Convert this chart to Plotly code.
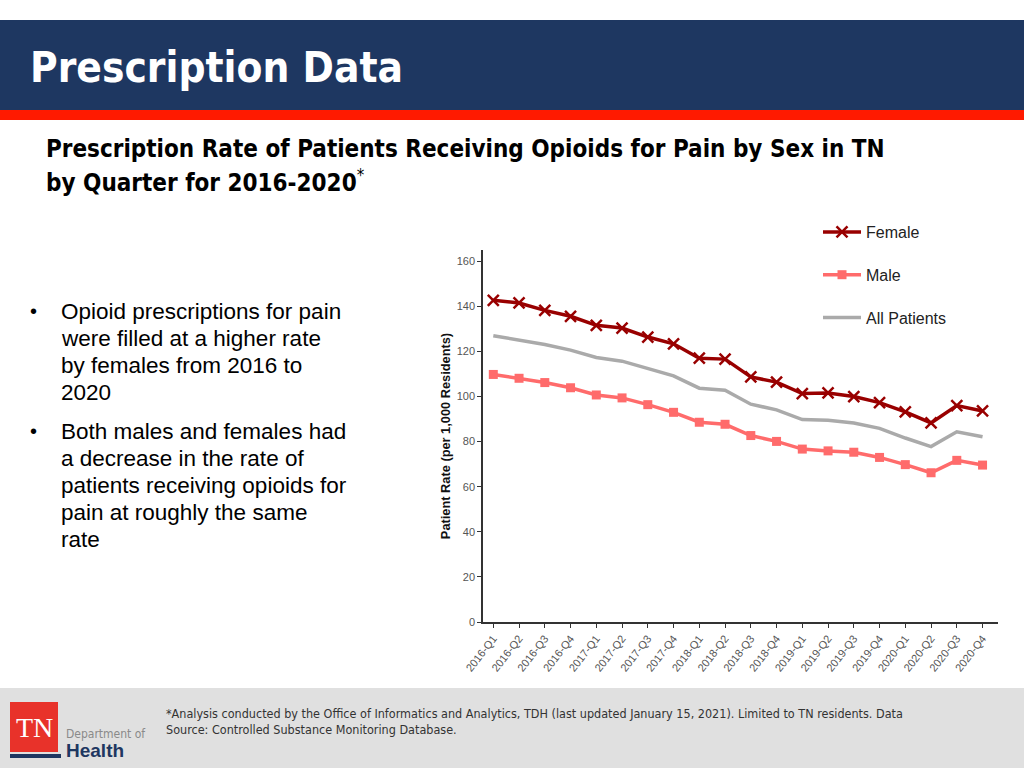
import plotly.graph_objects as go

quarters = ["2016-Q1", "2016-Q2", "2016-Q3", "2016-Q4",
            "2017-Q1", "2017-Q2", "2017-Q3", "2017-Q4",
            "2018-Q1", "2018-Q2", "2018-Q3", "2018-Q4",
            "2019-Q1", "2019-Q2", "2019-Q3", "2019-Q4",
            "2020-Q1", "2020-Q2", "2020-Q3", "2020-Q4"]
female = [142.7, 141.5, 138.2, 135.6, 131.6, 130.4, 126.4, 123.4, 117.0, 116.6,
          108.7, 106.4, 101.3, 101.6, 100.0, 97.3, 93.2, 88.3, 96.0, 93.6]
male = [109.8, 108.1, 106.2, 103.9, 100.7, 99.4, 96.4, 93.0, 88.6, 87.7,
        82.7, 80.1, 76.7, 75.9, 75.3, 73.0, 69.8, 66.2, 71.7, 69.6]
all_patients = [127.0, 125.2, 123.1, 120.6, 117.3, 115.7, 112.4, 109.2, 103.7, 102.8,
                96.6, 94.1, 89.8, 89.5, 88.3, 85.9, 81.6, 77.8, 84.4, 82.2]
y_ticks = [0, 20, 40, 60, 80, 100, 120, 140, 160]

W, H = 1024, 768
def px(x): return x / W
def py(y): return 1 - y / H

fig = go.Figure()
fig.add_trace(go.Scatter(
    x=quarters, y=female, name="Female", mode="lines+markers",
    line=dict(color="#990000", width=3.5),
    marker=dict(symbol="x-thin", size=11, line=dict(color="#990000", width=2.5), color="#990000"),
    legendgroup="f"))
fig.add_trace(go.Scatter(
    x=quarters, y=male, name="Male", mode="lines+markers",
    line=dict(color="#FF6B6B", width=3.5),
    marker=dict(symbol="square", size=9, color="#FF6B6B"),
    legendgroup="m"))
fig.add_trace(go.Scatter(
    x=quarters, y=all_patients, name="All Patients", mode="lines",
    line=dict(color="#AAAAAA", width=3.5),
    legendgroup="a"))

fig.update_layout(
    template="none",
    width=W, height=H, margin=dict(l=0, r=0, t=0, b=0, autoexpand=False),
    paper_bgcolor="white", plot_bgcolor="white",
    font=dict(family="Liberation Sans, Arial, sans-serif"),
    legend=dict(x=px(818), y=py(215), xanchor="left", yanchor="top",
                font=dict(size=16, color="#222222"), tracegroupgap=19,
                itemwidth=38, bgcolor="rgba(0,0,0,0)"),
    xaxis=dict(domain=[px(483), px(998)], type="category", range=[-0.4, 19.6],
               showline=True, linecolor="#333333", linewidth=1.5,
               ticks="outside", ticklen=4, tickcolor="#333333",
               tickangle=-52, tickfont=dict(size=11, color="#555555"),
               showgrid=False, zeroline=False, automargin=False),
    yaxis=dict(domain=[1 - 622 / H, 1 - 250 / H], range=[0, 165],
               tickvals=y_ticks, showline=True, linecolor="#333333", linewidth=1.5,
               ticks="outside", ticklen=4, tickcolor="#333333",
               tickfont=dict(size=11, color="#555555"),
               showgrid=False, zeroline=False, automargin=False,
               title=dict(text="<b>Patient Rate (per 1,000 Residents)</b>",
                          font=dict(size=12.8, color="#111111"), standoff=3)),
)

shapes = [
    dict(type="rect", xref="paper", yref="paper", x0=0, x1=1, y0=py(110), y1=py(20),
         fillcolor="#1E3761", line=dict(width=0), layer="below"),
    dict(type="rect", xref="paper", yref="paper", x0=0, x1=1, y0=py(120), y1=py(110),
         fillcolor="#FF1A00", line=dict(width=0), layer="below"),
    dict(type="rect", xref="paper", yref="paper", x0=0, x1=1, y0=0, y1=py(688),
         fillcolor="#E0E0E0", line=dict(width=0), layer="below"),
    dict(type="rect", xref="paper", yref="paper", x0=px(10), x1=px(58), y0=py(752), y1=py(702),
         fillcolor="#E8322A", line=dict(width=0), layer="below"),
    dict(type="rect", xref="paper", yref="paper", x0=px(10), x1=px(61), y0=py(758), y1=py(754),
         fillcolor="#1E3761", line=dict(width=0), layer="below"),
]
fig.update_layout(shapes=shapes)

ann = []
def add(text, x, y, size, color="#000000", family="Liberation Sans, Arial, sans-serif", xanchor="left", yanchor="middle", align="left"):
    ann.append(dict(text=text, x=px(x), y=py(y), xref="paper", yref="paper",
                    xanchor=xanchor, yanchor=yanchor, align=align, showarrow=False,
                    font=dict(size=size, color=color, family=family)))

narrow = "DejaVu Sans Condensed, Liberation Sans Narrow, Arial Narrow, Liberation Sans, sans-serif"
add("<b>Prescription Data</b>", 28, 68, 42, color="white", family=narrow)
add("<b>Prescription Rate of Patients Receiving Opioids for Pain by Sex in TN</b>", 44, 149, 24, family=narrow)
add("<b>by Quarter for 2016-2020</b><sup>*</sup>", 44, 181, 24, family=narrow)

bullet1 = ["Opioid prescriptions for pain", "were filled at a higher rate",
           "by females from 2016 to", "2020"]
bullet2 = ["Both males and females had", "a decrease in the rate of",
           "patients receiving opioids for", "pain at roughly the same", "rate"]
add("•", 28, 311, 20)
for i, t in enumerate(bullet1):
    add(t, 59, 311 + 27 * i, 22.5)
add("•", 28, 431, 20)
for i, t in enumerate(bullet2):
    add(t, 59, 431 + 27 * i, 22.5)

add("*Analysis conducted by the Office of Informatics and Analytics, TDH (last updated January 15, 2021). Limited to TN residents. Data",
    164, 713, 12.5, color="#333333", family=narrow)
add("Source: Controlled Substance Monitoring Database.",
    164, 729, 12.5, color="#333333", family=narrow)

add("TN", 34, 727, 28, color="white", family="Liberation Serif, Times New Roman, serif", xanchor="center")
add("Department of", 64, 734, 12, color="#8A8A8A", family=narrow)
add("<b>Health</b>", 64, 750, 19, color="#1E3761")

fig.update_layout(annotations=ann)
fig.write_html("out.html", config={"displayModeBar": False},
               post_script="document.body.style.margin='0';document.body.style.overflow='hidden';")
